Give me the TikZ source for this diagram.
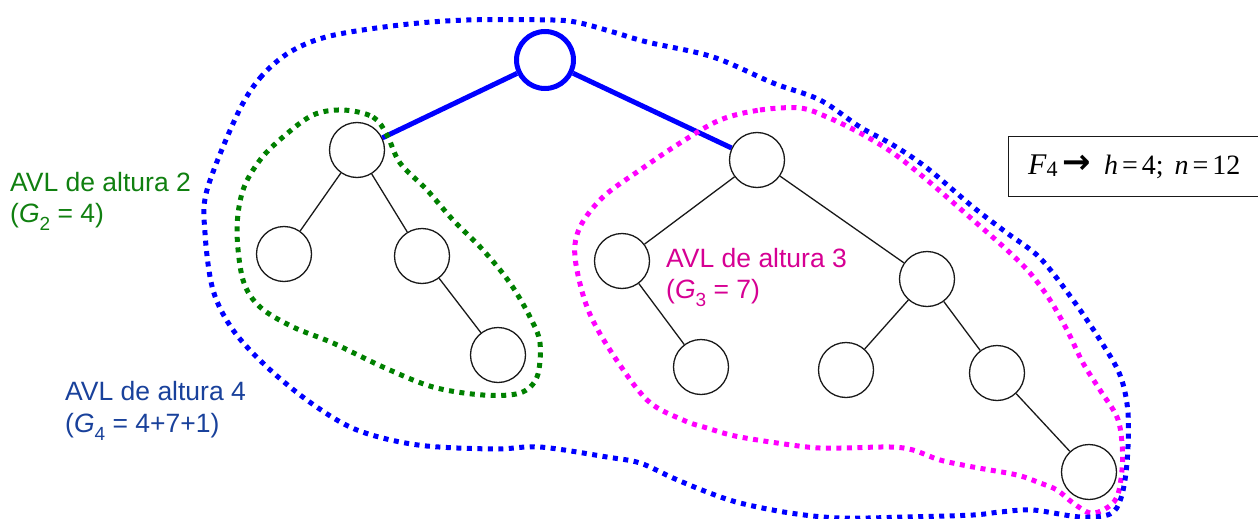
\documentclass[tikz,border=0pt]{standalone}
\usepackage{fontspec}
\setmainfont{Liberation Sans}
\newfontfamily\timesf{Liberation Serif}
\newfontfamily\dejavuf{DejaVu Sans}
\definecolor{dotblue}{RGB}{0,0,255}
\definecolor{dotgreen}{RGB}{0,128,0}
\definecolor{dotpink}{RGB}{255,0,255}
\definecolor{txtgreen}{RGB}{16,128,16}
\definecolor{txtblue}{RGB}{25,65,155}
\definecolor{txtpink}{RGB}{214,0,147}
\newcommand{\lowsub}[1]{\raisebox{-0.32em}{\fontsize{19}{19}\selectfont #1}}
\begin{document}
\begin{tikzpicture}[x=1pt,y=-1pt,
 treenode/.style={circle, draw=black!90, line width=1.3pt, fill=white, minimum size=55pt, inner sep=0pt},
 rootnode/.style={circle, draw=dotblue, line width=5pt, fill=white, minimum size=57pt, inner sep=0pt},
 edge/.style={draw=black!90, line width=1.3pt},
 rootedge/.style={draw=dotblue, line width=5pt},
 dots/.style={line width=5pt, dash pattern=on 5pt off 5.5pt},
 lbl/.style={anchor=base west, inner sep=0pt, font=\fontsize{26.5}{30}\selectfont},
 boxframe/.style={draw=black!90, line width=1.3pt, anchor=north west, minimum height=60pt, minimum width=280pt, inner sep=0pt},
 boxtext/.style={anchor=base west, inner sep=0pt, font=\timesf\fontsize{28}{30}\selectfont},
]
\useasboundingbox (0,0) rectangle (1258,519);

% nodes
\node[rootnode] (root) at (545,60) {};
\node[treenode] (L) at (357,150) {};
\node[treenode] (LL) at (284,254) {};
\node[treenode] (LR) at (422,256) {};
\node[treenode] (LRR) at (498,355) {};
\node[treenode] (R) at (757,160) {};
\node[treenode] (RL) at (622,261) {};
\node[treenode] (RLR) at (701,367) {};
\node[treenode] (RR) at (927,279) {};
\node[treenode] (RRL) at (846,370) {};
\node[treenode] (RRR) at (997,373) {};
\node[treenode] (RRRR) at (1089,472) {};

% edges
\draw[rootedge] (root) -- (L);
\draw[rootedge] (root) -- (R);
\draw[edge] (L) -- (LL);
\draw[edge] (L) -- (LR);
\draw[edge] (LR) -- (LRR);
\draw[edge] (R) -- (RL);
\draw[edge] (R) -- (RR);
\draw[edge] (RL) -- (RLR);
\draw[edge] (RR) -- (RRL);
\draw[edge] (RR) -- (RRR);
\draw[edge] (RRR) -- (RRRR);

% outlines
\draw[dots, dotgreen] plot[smooth cycle, tension=0.55] coordinates {
 (343,110) (373,117) (387,135) (400,163) (427,190) (453,220) (483,250) (510,283)
 (530,317) (540,343) (537,377) (520,393) (483,395) (433,387) (383,367) (333,343)
 (293,327) (260,307) (243,280) (237,230) (243,190) (260,160) (283,137) (313,115)};

\draw[dots, dotpink] plot[smooth cycle, tension=0.55] coordinates {
 (720,120) (760,110) (800,108) (827,117) (860,133) (893,153) (927,180) (973,220)
 (1007,250) (1030,273) (1050,300) (1067,330) (1083,363) (1100,390) (1117,417)
 (1122,443) (1122,470) (1117,497) (1105,509) (1090,513) (1073,503) (1057,490)
 (1040,483) (1017,475) (973,467) (940,460) (913,450) (890,447) (840,448) (807,447)
 (740,437) (707,428) (683,420) (647,400) (610,350) (587,307) (575,257) (580,227)
 (603,197) (640,170) (680,143)};

\draw[dots, dotblue] plot[smooth cycle, tension=0.55] coordinates {
 (237,115) (260,78) (290,52) (330,36) (400,25) (467,20) (553,20) (580,23) (613,32)
 (647,42) (713,57) (773,83) (820,100) (860,127) (893,145) (927,168) (973,207)
 (1007,233) (1040,258) (1073,300) (1100,340) (1120,375) (1128,413) (1127,463)
 (1121,498) (1110,514) (1080,517) (1033,510) (1000,512) (973,515) (907,517)
 (840,518) (790,513) (740,503) (707,492) (673,478) (640,463) (607,457) (540,447)
 (494,449) (418,445) (357,430) (311,403) (267,367) (233,330) (213,290) (205,233)
 (207,190)};

% labels
\node[lbl, txtgreen] (g2a) at (10,191) {AVL de altura 2};
\node[lbl, txtgreen] (g2b) at (10,222) {(\textit{G}\lowsub{2} = 4)};
\node[lbl, txtblue] (g4a) at (65,400) {AVL de altura 4};
\node[lbl, txtblue] (g4b) at (65,432) {(\textit{G}\lowsub{4} = 4+7+1)};
\node[lbl, txtpink] (g3a) at (666,267) {AVL de altura 3};
\node[lbl, txtpink] (g3b) at (666,298) {(\textit{G}\lowsub{3} = 7)};

% info box
\node[boxframe] (fbox) at (1008,136) {};
\node[boxtext] (ftext) at (1028,174) {{\fontsize{30}{30}\selectfont\itshape F}\raisebox{-0.1em}{\fontsize{22}{22}\selectfont 4}\hspace{5pt}\raisebox{0.02em}{\dejavuf\bfseries\fontsize{34}{34}\selectfont →}\hspace{13pt}\textit{h}\hspace{4pt}=\hspace{4pt}4;\hspace{11pt}\textit{n}\hspace{4pt}=\hspace{4pt}12};
\end{tikzpicture}
\end{document}
